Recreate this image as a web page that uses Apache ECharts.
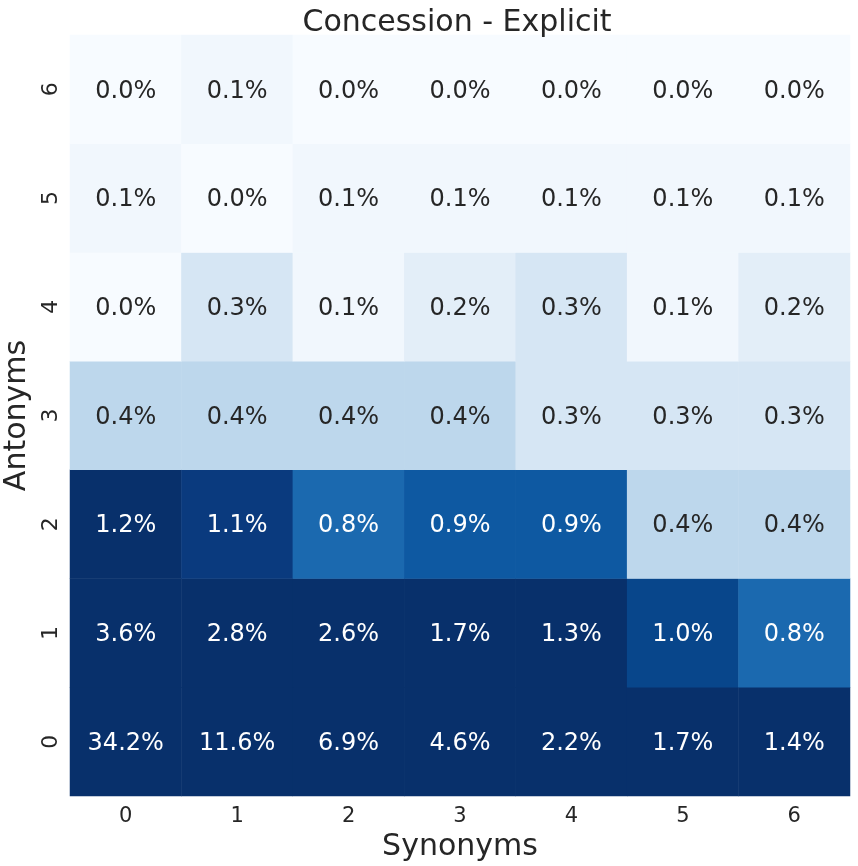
<!DOCTYPE html>
<html>
<head>
<meta charset="utf-8">
<title>Concession - Explicit</title>
<script src="https://cdn.jsdelivr.net/npm/echarts@6/dist/echarts.min.js"></script>
<style>
  html, body { margin: 0; padding: 0; background: #fff; }
  #chart { width: 858px; height: 866px; }
</style>
</head>
<body>
<div id="chart"></div>
<script>
// tick labels
var synonyms = ['0', '1', '2', '3', '4', '5', '6'];
var antonyms = ['0', '1', '2', '3', '4', '5', '6'];

// percentages, one row per antonym count (0 at the bottom)
var row0 = [34.2, 11.6, 6.9, 4.6, 2.2, 1.7, 1.4];
var row1 = [3.6, 2.8, 2.6, 1.7, 1.3, 1.0, 0.8];
var row2 = [1.2, 1.1, 0.8, 0.9, 0.9, 0.4, 0.4];
var row3 = [0.4, 0.4, 0.4, 0.4, 0.3, 0.3, 0.3];
var row4 = [0.0, 0.3, 0.1, 0.2, 0.3, 0.1, 0.2];
var row5 = [0.1, 0.0, 0.1, 0.1, 0.1, 0.1, 0.1];
var row6 = [0.0, 0.1, 0.0, 0.0, 0.0, 0.0, 0.0];
var rows = [row0, row1, row2, row3, row4, row5, row6];

var colorMax = 1.2;
// blues colormap, one stop every 0.1
var blues = ['#f7fbff', '#f1f7fd', '#e3eef8', '#d6e6f4', '#bdd7ec', '#94c4df', '#6aaed6',
             '#3f8fc5', '#1b69af', '#0e59a2', '#08468b', '#0a3a7e', '#08306b'];

var data = [];
rows.forEach(function (row, y) {
    row.forEach(function (v, x) {
        data.push({
            value: [x, y, v, Math.min(v, colorMax)],
            label: { color: v >= 0.6 ? '#ffffff' : '#262626' }
        });
    });
});

var font = 'DejaVu Sans';
var myChart = echarts.init(document.getElementById('chart'));

var option = {
    backgroundColor: '#ffffff',
    animation: false,
    title: {
        text: 'Concession - Explicit',
        left: 452,
        top: 3,
        textAlign: 'center',
        textStyle: { fontFamily: font, fontSize: 30, fontWeight: 'normal', color: '#262626' }
    },
    grid: { left: 70, right: 8, top: 35, bottom: 70, outerBoundsMode: 'none' },
    xAxis: {
        type: 'category',
        data: synonyms,
        name: 'Synonyms',
        nameLocation: 'middle',
        nameGap: 35,
        nameTextStyle: { fontFamily: font, fontSize: 30, color: '#262626' },
        axisLine: { show: false },
        axisTick: { show: false },
        splitLine: { show: false },
        axisLabel: { fontFamily: font, fontSize: 21, color: '#262626', margin: 10 }
    },
    yAxis: {
        type: 'category',
        data: antonyms,
        name: 'Antonyms',
        nameLocation: 'middle',
        nameGap: 35,
        nameRotate: 90,
        nameTextStyle: { fontFamily: font, fontSize: 30, color: '#262626' },
        axisLine: { show: false },
        axisTick: { show: false },
        splitLine: { show: false },
        axisLabel: { fontFamily: font, fontSize: 22, color: '#262626', rotate: 90, margin: 8 }
    },
    visualMap: {
        show: false,
        type: 'continuous',
        dimension: 3,
        min: 0,
        max: colorMax,
        inRange: { color: blues },
        outOfRange: { color: '#08306b' }
    },
    series: [{
        type: 'heatmap',
        data: data,
        itemStyle: { borderWidth: 0 },
        label: {
            show: true,
            fontFamily: font,
            fontSize: 24,
            offset: [0, 2],
            formatter: function (p) { return p.value[2].toFixed(1) + '%'; }
        },
        emphasis: { disabled: true }
    }]
};

myChart.setOption(option);
</script>
</body>
</html>
